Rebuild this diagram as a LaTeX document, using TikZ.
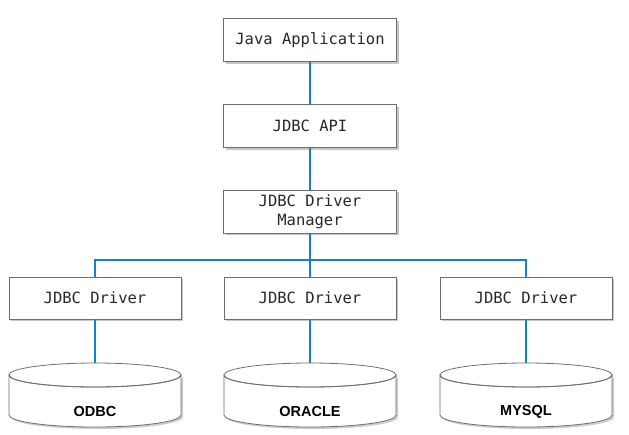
\documentclass[tikz,border=0pt]{standalone}
\usepackage{fontspec}
\setmonofont{DejaVu Sans Mono}
\setsansfont{Liberation Sans}
\usepackage{tikz}
\usetikzlibrary{positioning,arrows.meta,calc,shadows}
\definecolor{wire}{RGB}{24,128,200}
\definecolor{edge}{RGB}{110,110,110}
\definecolor{ink}{RGB}{40,40,40}
\newcommand{\drawdb}[1]{%
  \filldraw[dbline] ({#1-86},375) -- ({#1-86},415) arc[start angle=180,end angle=0,x radius=86,y radius=12]
    -- ({#1+86},375) arc[start angle=0,end angle=180,x radius=86,y radius=12] -- cycle;
  \draw[draw=edge,line width=0.8pt] (#1,375) ellipse[x radius=86,y radius=12];}
\tikzset{
  layer/.style={draw=edge,fill=white,line width=0.8pt,minimum width=173pt,minimum height=43pt,inner sep=0pt,
    font=\ttfamily\fontsize{15.5}{19}\selectfont,text=ink,align=center,
    drop shadow={shadow xshift=2pt,shadow yshift=-2pt,opacity=0.45}},
  dbline/.style={draw=edge,fill=white,line width=0.8pt,
    drop shadow={shadow xshift=2pt,shadow yshift=-2pt,opacity=0.4}},
  dbox/.style={minimum width=172pt,minimum height=64pt,inner sep=0pt},
  dblabel/.style={font=\sffamily\bfseries\fontsize{14.5}{17}\selectfont,text=black,inner sep=1pt},
  link/.style={wire,line width=1.6pt}
}
\begin{document}
\begin{tikzpicture}[x=1pt,y=-1pt]
\useasboundingbox (0,0) rectangle (629,434);
% stack
\node[layer] (app) at (310,40) {Java Application};
\node[layer] (api) at (310,126) {JDBC API};
\node[layer] (mgr) at (310,211.5) {JDBC Driver\\Manager};
\coordinate (bus) at (310,260);
% drivers and databases
\foreach \x/\n/\db in {95/1/ODBC,310/2/ORACLE,526/3/MYSQL}{
  \node[layer,minimum width=172pt,minimum height=42pt] (drv\n) at (\x,298) {JDBC Driver};
  \node[dbox] (db\n) at (\x,395) {};
  \drawdb{\x}
  \node[dblabel] (lbl\n) at (\x,412) {\db};
}
\draw[link] (app) -- (api);
\draw[link] (api) -- (mgr);
\draw[link] (mgr) -- (bus);
\draw[link] (drv1.north) |- (bus) -| (drv3.north);
\draw[link] (bus) -- (drv2.north);
\foreach \n in {1,2,3}{
  \draw[link] (drv\n) -- (db\n.north);
}
\end{tikzpicture}
\end{document}
